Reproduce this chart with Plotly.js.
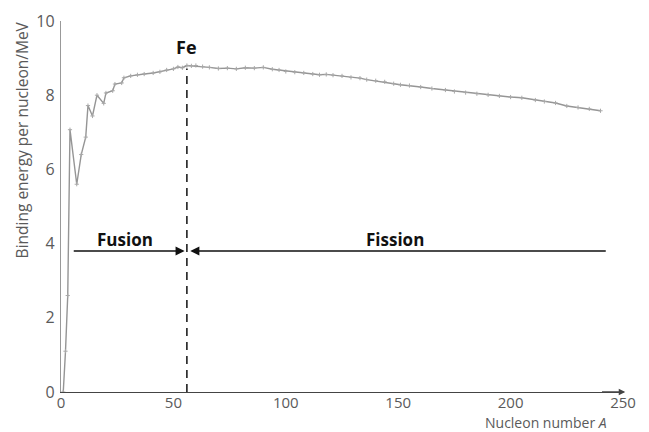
<!DOCTYPE html>
<html>
<head>
<meta charset="utf-8">
<script src="https://cdn.plot.ly/plotly-3.0.1.min.js"></script>
<style>html,body{margin:0;padding:0;background:#fff;}#chart{width:649px;height:432px;}</style>
</head>
<body>
<div id="chart"></div>
<script>
// Nucleon number A
const nucleonNumber = [1, 2, 3, 4, 7, 9, 11, 12, 14, 16, 19, 20, 23, 24, 27, 28, 31, 34, 37, 41, 44, 47, 50, 52, 54, 56, 58, 60, 63, 66, 70, 74, 78, 82, 86, 90, 94, 97, 100, 104, 108, 112, 115, 118, 121, 125, 129, 133, 136, 140, 144, 148, 151, 155, 160, 165, 171, 175, 180, 185, 190, 195, 200, 205, 211, 215, 220, 225, 230, 235, 240];
// Binding energy per nucleon / MeV
const bindingEnergy = [0, 1.1, 2.6, 7.07, 5.6, 6.4, 6.87, 7.72, 7.44, 8.0, 7.78, 8.06, 8.12, 8.3, 8.33, 8.47, 8.52, 8.55, 8.57, 8.6, 8.63, 8.68, 8.71, 8.76, 8.74, 8.8, 8.79, 8.8, 8.77, 8.75, 8.72, 8.73, 8.71, 8.74, 8.73, 8.75, 8.7, 8.68, 8.64, 8.62, 8.6, 8.57, 8.55, 8.56, 8.54, 8.52, 8.48, 8.46, 8.42, 8.39, 8.36, 8.31, 8.28, 8.26, 8.22, 8.18, 8.14, 8.1, 8.07, 8.04, 8.01, 7.98, 7.95, 7.93, 7.87, 7.83, 7.79, 7.71, 7.67, 7.63, 7.58];

const xTicks = [0, 50, 100, 150, 200, 250];
const yTicks = [0, 2, 4, 6, 8, 10];

const feA = 56;          // iron peak position
const feLabelY = 9.3;
const arrowY = 3.8;
const fusionStart = 5, fusionEnd = 55;
const fissionStart = 243, fissionEnd = 57.5;

const traces = [
  {
    x: nucleonNumber, y: bindingEnergy,
    type: 'scatter', mode: 'lines+markers',
    line: {color: '#959595', width: 1.4},
    marker: {color: '#a8a8a8', size: 3, symbol: 'cross-thin', line: {color: '#a8a8a8', width: 1}},
    hoverinfo: 'skip', showlegend: false
  },
  {
    x: [feA, feA], y: [0, 8.72],
    type: 'scatter', mode: 'lines',
    line: {color: '#111', width: 1.5, dash: '8px,6px'},
    hoverinfo: 'skip', showlegend: false
  }
];

const font = "'Open Sans', 'DejaVu Sans', sans-serif";

const layout = {
  width: 649, height: 432,
  margin: {l: 61, r: 26, t: 21, b: 40},
  paper_bgcolor: '#fff', plot_bgcolor: '#fff',
  font: {family: font, color: '#555', size: 14},
  xaxis: {
    range: [0, 250], tickvals: xTicks, ticktext: xTicks.map(String),
    showgrid: false, zeroline: false, showline: true, linecolor: '#444', linewidth: 1.3,
    ticks: '', tickfont: {size: 15, color: '#5a5a5a'}, ticklabelstandoff: -3, fixedrange: true
  },
  yaxis: {
    range: [0, 10], tickvals: yTicks, ticktext: yTicks.map(String),
    showgrid: false, zeroline: false, showline: true, linecolor: '#999', linewidth: 1.2,
    ticks: '', tickfont: {size: 16, color: '#5a5a5a'}, ticklabelstandoff: 2, fixedrange: true
  },
  annotations: [
    {x: feA, y: feLabelY, xref: 'x', yref: 'y', text: '<b>Fe</b>', showarrow: false,
     font: {size: 18, color: '#111'}},
    {x: 28.5, y: 4.1, xref: 'x', yref: 'y', text: '<b>Fusion</b>', showarrow: false,
     font: {size: 17, color: '#111'}},
    {x: 148.5, y: 4.1, xref: 'x', yref: 'y', text: '<b>Fission</b>', showarrow: false,
     font: {size: 17, color: '#111'}},
    {x: fusionEnd, y: arrowY, ax: fusionStart, ay: arrowY, xref: 'x', yref: 'y', axref: 'x', ayref: 'y',
     text: '', showarrow: true, arrowhead: 2, arrowsize: 1.4, arrowwidth: 1.3, arrowcolor: '#111'},
    {x: fissionEnd, y: arrowY, ax: fissionStart, ay: arrowY, xref: 'x', yref: 'y', axref: 'x', ayref: 'y',
     text: '', showarrow: true, arrowhead: 2, arrowsize: 1.4, arrowwidth: 1.3, arrowcolor: '#111'},
    {x: 251, y: 0, ax: 240, ay: 0, xref: 'x', yref: 'y', axref: 'x', ayref: 'y',
     text: '', showarrow: true, arrowhead: 2, arrowsize: 1, arrowwidth: 1.3, arrowcolor: '#444'},
    {x: 0.975, y: -0.083, xref: 'paper', yref: 'paper', xanchor: 'right', yanchor: 'middle',
     text: 'Nucleon number <i>A</i>', showarrow: false, font: {size: 14, color: '#5a5a5a'}},
    {x: -0.07, y: 0.68, xref: 'paper', yref: 'paper', xanchor: 'center', yanchor: 'middle', textangle: -90,
     text: 'Binding energy per nucleon/MeV', showarrow: false, font: {size: 15.5, color: '#5a5a5a'}}
  ]
};

Plotly.newPlot('chart', traces, layout, {staticPlot: true, displayModeBar: false});
</script>
</body>
</html>
